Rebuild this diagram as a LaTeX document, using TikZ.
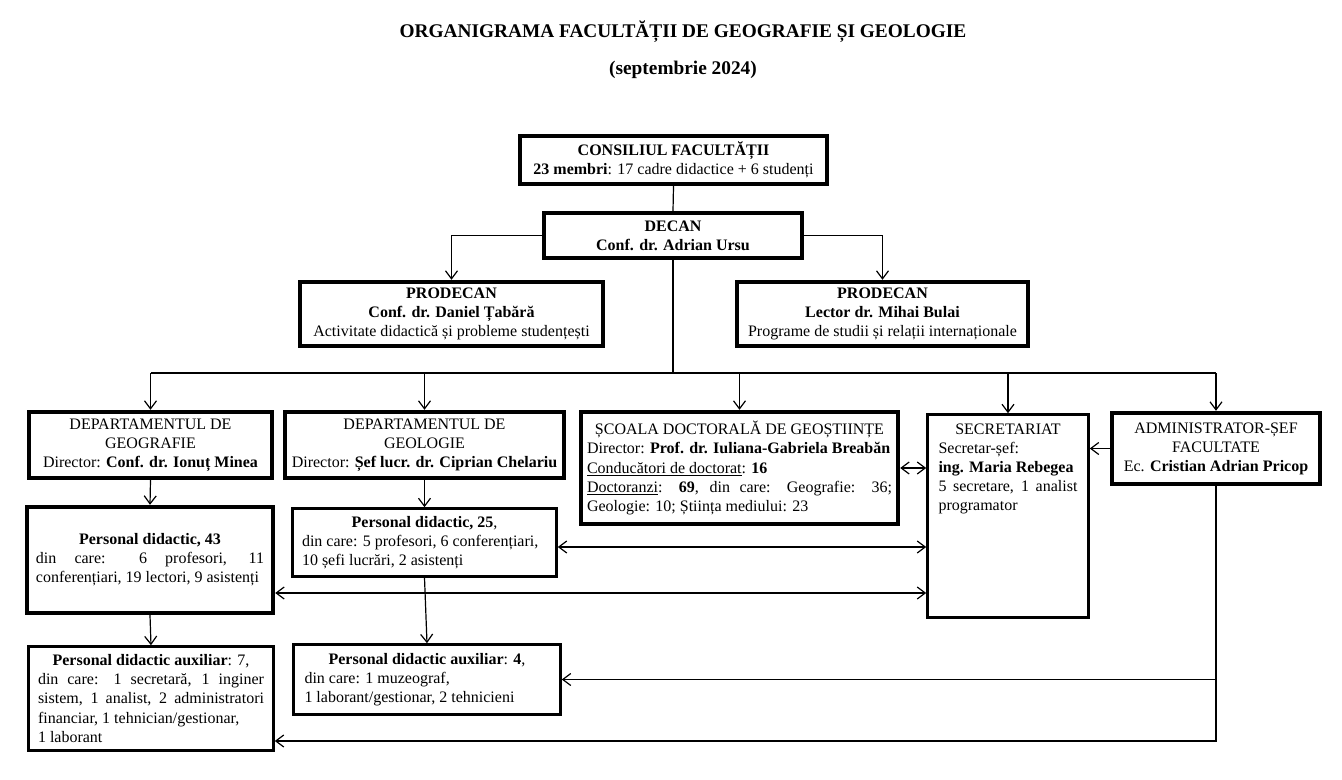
\documentclass[tikz,border=0pt]{standalone}
\usepackage{fontspec}
\setmainfont{Liberation Serif}
\usetikzlibrary{arrows.meta}
\newlength\pxu \setlength\pxu{0.75pt}
\hyphenpenalty=10000 \exhyphenpenalty=10000
\begin{document}
\begin{tikzpicture}[x=0.75pt,y=-0.75pt,
  font=\fontsize{12}{14.3}\selectfont,
  box/.style={draw, line width=2.8pt, inner sep=0pt, align=center},
  thinbox/.style={box, line width=2.2pt},
  wh/.style 2 args={minimum width=#1*0.75pt-2.5pt, minimum height=#2*0.75pt-2.5pt},
  conn/.style={line width=0.9pt},
  arr/.style={conn, -{Straight Barb[length=6pt,width=9pt,line width=0.9pt]}},
  darr/.style={conn, {Straight Barb[length=6pt,width=9pt,line width=0.9pt]}-{Straight Barb[length=6pt,width=9pt,line width=0.9pt]}},
  titlefont/.style={font=\bfseries\fontsize{14.5}{16}\selectfont}]
\useasboundingbox (0,0) rectangle (1342,779);

\node[titlefont] (title) at (683,32) {ORGANIGRAMA FACULTĂȚII DE GEOGRAFIE ȘI GEOLOGIE};
\node[titlefont] (subtitle) at (683,70) {(septembrie 2024)};

\node[box, wh={311}{52}] (cons) at (673.5,160) {\textbf{CONSILIUL FACULTĂȚII}\\\textbf{23 membri}: 17 cadre didactice + 6 studenți};
\node[box, wh={262}{49}] (decan) at (673,235.5) {\textbf{DECAN}\\\textbf{Conf. dr. Adrian Ursu}};
\node[box, wh={307}{68}] (prodL) at (451.5,314) {\textbf{PRODECAN}\\\textbf{Conf. dr. Daniel Țabără}\\Activitate didactică și probleme studențești};
\node[box, wh={295}{68}] (prodR) at (882.5,314) {\textbf{PRODECAN}\\\textbf{Lector dr. Mihai Bulai}\\Programe de studii și relații internaționale};

\node[box, wh={247}{70}] (deptGeo) at (150.5,445) {DEPARTAMENTUL DE\\GEOGRAFIE\\Director: \textbf{Conf. dr. Ionuț Minea}};
\node[box, wh={283}{70}] (deptGeol) at (424.5,445) {DEPARTAMENTUL DE\\GEOLOGIE\\Director: \textbf{Șef lucr. dr. Ciprian Chelariu}};
\node[box, wh={321}{116}] (scoala) at (739.5,468) {\parbox{305\pxu}{{\centering ȘCOALA DOCTORALĂ DE GEOȘTIINȚE\par}Director: \textbf{Prof. dr. Iuliana-Gabriela Breabăn}\\\underline{Conducători de doctorat}: \textbf{16}\\\underline{Doctoranzi}: \textbf{69}, din care: Geografie: 36;\linebreak Geologie: 10; Știința mediului: 23}};
\node[thinbox, wh={164}{206}] (secr) at (1008,516) {\parbox[c][184\pxu][t]{139\pxu}{{\centering SECRETARIAT\par}Secretar-șef:\\\textbf{ing. Maria Rebegea}\\5 secretare, 1 analist\linebreak programator}};
\node[box, wh={212}{75}] (admin) at (1216,448.5) {ADMINISTRATOR-ȘEF\\FACULTATE\\Ec. \textbf{Cristian Adrian Pricop}};

\node[box, wh={250}{110}] (pers43) at (150,560) {\parbox{228\pxu}{{\centering\textbf{Personal didactic, 43}\par}din care: 6 profesori, 11\linebreak conferențiari, 19 lectori, 9 asistenți}};
\node[thinbox, wh={267}{71}] (pers25) at (424.5,542.5) {\parbox{245\pxu}{{\centering\textbf{Personal didactic, 25},\par}din care: 5 profesori, 6 conferențiari,\\10 șefi lucrări, 2 asistenți}};
\node[thinbox, wh={248}{107}] (auxGeo) at (151,698.5) {\parbox{226\pxu}{{\centering\textbf{Personal didactic auxiliar}: 7,\par}din care: 1 secretară, 1 inginer\linebreak sistem, 1 analist, 2 administratori\linebreak financiar, 1 tehnician/gestionar,\\1 laborant}};
\node[thinbox, wh={270}{73}] (auxGeol) at (427,679.5) {\parbox{245\pxu}{{\centering\textbf{Personal didactic auxiliar}: \textbf{4},\par}din care: 1 muzeograf,\\1 laborant/gestionar, 2 tehnicieni}};

% top connectors
\draw[conn] (cons.south) -- (decan.north);
\draw[arr] (decan.west) -| (prodL.north);
\draw[arr] (decan.east) -| (prodR.north);

% bus
\coordinate (busL) at (deptGeo.north |- 0,373);
\coordinate (busR) at (admin.north |- 0,373);
\draw[conn] (decan.south) -- (decan.south |- busL);
\draw[conn] (busL) -- (busR);
\draw[arr] (busL) -- (deptGeo.north);
\draw[arr] (deptGeol.north |- busL) -- (deptGeol.north);
\draw[arr] (scoala.north |- busL) -- (scoala.north);
\draw[arr] (secr.north |- busL) -- (secr.north);
\draw[arr] (busR) -- (admin.north);

% departments down
\draw[arr] (deptGeo.south) -- (pers43.north);
\draw[arr] (deptGeol.south) -- (pers25.north);
\draw[arr] (pers43.south) -- (auxGeo.north);
\draw[arr] (pers25.south) -- (auxGeol.north);

% links to secretariat
\draw[darr] (pers25.east |- 0,547) -- (secr.west |- 0,547);
\draw[darr] (pers43.east |- 0,593) -- (secr.west |- 0,593);
\draw[darr] (scoala.east) -- (scoala.east -| secr.west);
\draw[arr] (admin.west) -- (admin.west -| secr.east);

% administrator to auxiliary staff
\coordinate (corner) at (admin.south |- 0,741);
\draw[arr] (admin.south) -- (corner) -- (auxGeo.east |- corner);
\draw[arr] (auxGeol.east -| admin.south) -- (auxGeol.east);
\end{tikzpicture}
\end{document}
